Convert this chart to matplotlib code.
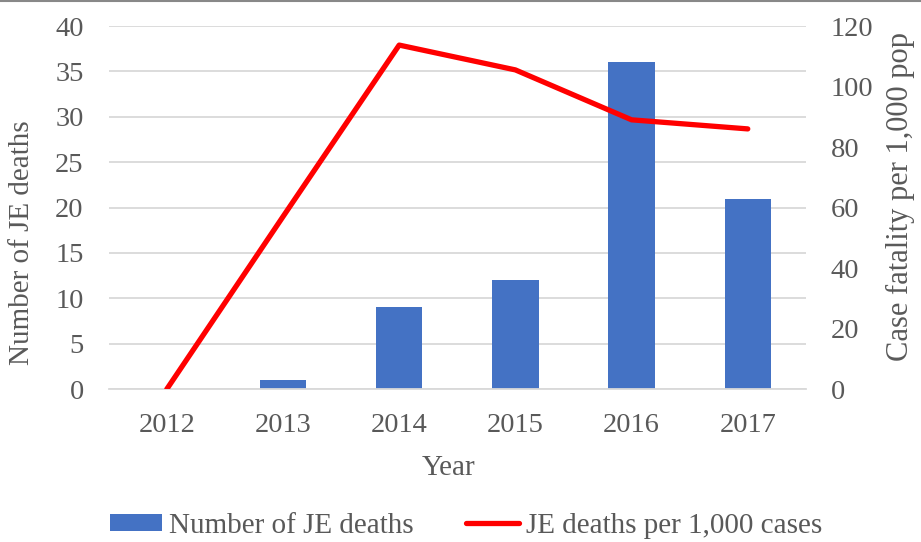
import numpy as np
import matplotlib.pyplot as plt
from matplotlib.lines import Line2D

plt.rcParams['font.family'] = ['Liberation Serif', 'DejaVu Serif']

years = ["2012", "2013", "2014", "2015", "2016", "2017"]
je_deaths = [0, 1, 9, 12, 36, 21]
deaths_per_1000 = [0, 57, 113.7, 105.5, 89, 86]

text_color = "#595959"
bar_color = "#4472C4"
grid_color = "#D9D9D9"

fig = plt.figure(figsize=(9.21, 5.42), dpi=100)
ax = fig.add_axes([0.118, 0.282, 0.757, 0.670])
x = np.arange(len(years))

ax.bar(x, je_deaths, width=0.4, color=bar_color, zorder=2, label="Number of JE deaths")
ax.set_ylim(0, 40)
ax.set_yticks(range(0, 41, 5))
ax.set_xlim(-0.5, len(years) - 0.5)
ax.set_xticks(x)
ax.set_xticklabels(years)
ax.yaxis.grid(True, color=grid_color, linewidth=1.3, zorder=0)
ax.set_axisbelow(True)
for s in ["top", "right", "left"]:
    ax.spines[s].set_visible(False)
ax.spines["bottom"].set_color(grid_color)
ax.spines["bottom"].set_linewidth(1.3)
ax.tick_params(axis="both", length=0, labelsize=20.5, labelcolor=text_color)
ax.tick_params(axis="y", pad=18)
ax.tick_params(axis="x", pad=17)

ax2 = ax.twinx()
ax2.plot(x, deaths_per_1000, color="#FF0000", linewidth=3.8, solid_capstyle="round",
         solid_joinstyle="round", zorder=3, label="JE deaths per 1,000 cases")
ax2.set_ylim(0, 120)
ax2.set_yticks(range(0, 121, 20))
for s in ["top", "right", "left", "bottom"]:
    ax2.spines[s].set_visible(False)
ax2.tick_params(axis="y", length=0, labelsize=20.5, labelcolor=text_color, pad=18)

# axis titles placed like the original
fig.text(0.024, 0.553, "Number of JE deaths", rotation=90, ha="center", va="center",
         fontsize=21, color=text_color)
fig.text(0.978, 0.637, "Case fatality per 1,000 pop", rotation=90, ha="center", va="center",
         fontsize=22, color=text_color)
fig.text(0.4875, 0.136, "Year", ha="center", va="center", fontsize=21, color=text_color)

h1, l1 = ax.get_legend_handles_labels()
h2, l2 = ax2.get_legend_handles_labels()
fig.legend(h1 + h2, l1 + l2, loc="center", bbox_to_anchor=(0.506, 0.03), ncol=2,
           frameon=False, fontsize=21, labelcolor=text_color, handlelength=1.8,
           handleheight=0.55, handletextpad=0.25, columnspacing=1.8)

fig.add_artist(Line2D([0, 1], [0.999, 0.999], transform=fig.transFigure, color="#888888", linewidth=1.5))

fig.savefig("out.png", dpi=100)
